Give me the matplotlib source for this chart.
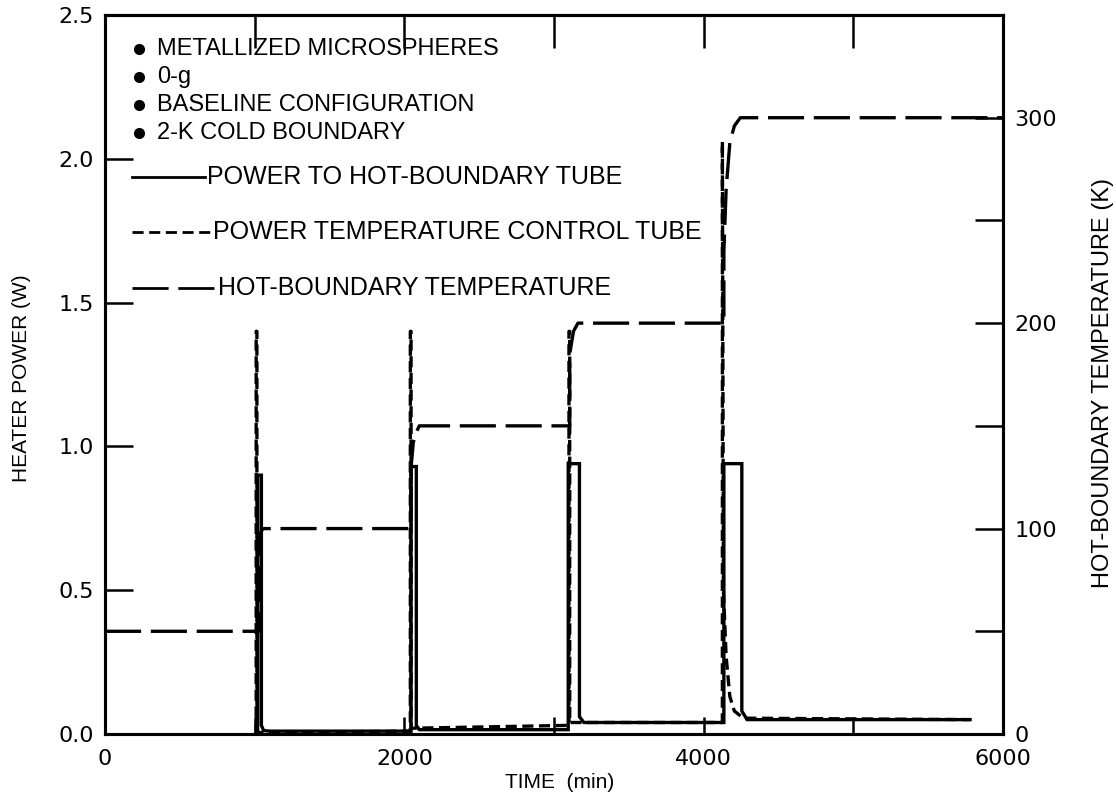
import matplotlib
matplotlib.use("Agg")
import matplotlib.pyplot as plt

plt.rcParams['font.family'] = ['Liberation Sans', 'DejaVu Sans']
plt.rcParams['lines.scale_dashes'] = False

# hot-boundary temperature (K) vs time (min)
temp_t = [0, 1030, 1030, 1045, 1060, 2045, 2045, 2060, 2080, 2100,
          3105, 3105, 3130, 3160, 4135, 4135, 4150, 4175, 4205, 4245, 6000]
temp_k = [50, 50, 95, 99, 100, 100, 130, 142, 147, 150,
          150, 185, 196, 200, 200, 235, 265, 288, 296, 300, 300]

# power to hot-boundary tube (W)
hot_t = [1020, 1020, 1045, 1045, 1060, 1100, 2045, 2045, 2080, 2080, 2100,
         3095, 3095, 3170, 3170, 3200, 4135, 4135, 4255, 4255, 4290, 5780]
hot_w = [0.0, 0.90, 0.90, 0.03, 0.012, 0.01, 0.01, 0.93, 0.93, 0.03, 0.015,
         0.015, 0.94, 0.94, 0.06, 0.04, 0.04, 0.94, 0.94, 0.08, 0.05, 0.05]

# power to temperature control tube (W)
ctrl_t = [1010, 1010, 1015, 1015, 2040, 2040, 2045, 2045, 3100, 3100, 3105, 3105,
          4125, 4125, 4132, 4150, 4175, 4205, 4265, 5780]
ctrl_w = [0.0, 1.40, 1.40, 0.005, 0.01, 1.40, 1.40, 0.02, 0.03, 1.40, 1.40, 0.04,
          0.04, 2.06, 0.50, 0.27, 0.13, 0.08, 0.055, 0.05]

left_ticks = [0.0, 0.5, 1.0, 1.5, 2.0, 2.5]
right_ticks = [0, 50, 100, 150, 200, 250, 300, 350]
right_labels = ['0', '', '100', '', '200', '', '300', '']
x_ticks = [0, 1000, 2000, 3000, 4000, 5000, 6000]
x_labels = ['0', '', '2000', '', '4000', '', '6000']
top_ticks = [1000, 2000, 3000, 4000, 5000]

notes = ['METALLIZED MICROSPHERES', '0-g', 'BASELINE CONFIGURATION', '2-K COLD BOUNDARY']
legend_names = ['POWER TO HOT-BOUNDARY TUBE', 'POWER TEMPERATURE CONTROL TUBE',
                'HOT-BOUNDARY TEMPERATURE']

W, H = 1116, 799
fig = plt.figure(figsize=(W / 100, H / 100), dpi=100)
ax = fig.add_axes([105 / W, 65 / H, 898 / W, 719 / H])
ax2 = ax.twinx()

short_dash = (0, (8, 4))
long_dash = (0, (26, 7))
lw = 2.4
ax.plot(hot_t, hot_w, color='black', lw=lw, solid_joinstyle='miter')
ax.plot(ctrl_t, ctrl_w, color='black', lw=lw, linestyle=short_dash)
ax2.plot(temp_t, temp_k, color='black', lw=lw, linestyle=long_dash)

ax.set_xlim(0, 6000)
ax.set_ylim(0, 2.5)
ax2.set_ylim(0, 350)

tick_font = {'family': 'DejaVu Sans', 'size': 16}
ax.set_xticks(x_ticks)
ax.set_xticklabels(x_labels, fontdict=tick_font)
ax.set_yticks(left_ticks)
ax.set_yticklabels([f'{v:.1f}' for v in left_ticks], fontdict=tick_font)
ax2.set_yticks(right_ticks)
ax2.set_yticklabels(right_labels, fontdict=tick_font)

ax.tick_params(axis='x', direction='in', length=12, width=1.8, pad=11)
ax.tick_params(axis='y', direction='in', length=20, width=1.8, pad=8)
ax2.tick_params(axis='y', direction='in', length=20, width=1.8, pad=8)

top = ax.secondary_xaxis('top')
top.set_xticks(top_ticks)
top.tick_params(direction='in', length=24, width=1.8, labeltop=False)

for a in (ax, ax2, top):
    for s in a.spines.values():
        s.set_linewidth(2.2)

fig.text(22 / W, 1 - 378 / H, 'HEATER POWER (W)', rotation=90, ha='center',
         va='center', fontsize=15)
fig.text(1103 / W, 1 - 383 / H, 'HOT-BOUNDARY TEMPERATURE (K)', rotation=90,
         ha='center', va='center', fontsize=17)
fig.text(560 / W, 1 - 783 / H, 'TIME  (min)', ha='center', va='center', fontsize=15)

# conditions list with bullets
tr = ax.transAxes
for i, s in enumerate(notes):
    y = 0.953 - i * 0.039
    ax.plot([0.038], [y], 'o', color='black', ms=7, transform=tr, clip_on=False)
    ax.text(0.058, y, s, transform=tr, ha='left', va='center', fontsize=17)

# line key: sample end and label start for each row
key_ends = [0.111, 0.117, 0.1225]
key_text = [0.1136, 0.120, 0.126]
for i, (name, ls) in enumerate(zip(legend_names, ['-', short_dash, long_dash])):
    y = 0.775 - i * 0.077
    ax.plot([0.030, key_ends[i]], [y, y], color='black', lw=2, linestyle=ls, transform=tr)
    ax.text(key_text[i], y, name, transform=tr, ha='left', va='center', fontsize=18)

fig.savefig('out.png', dpi=100)
